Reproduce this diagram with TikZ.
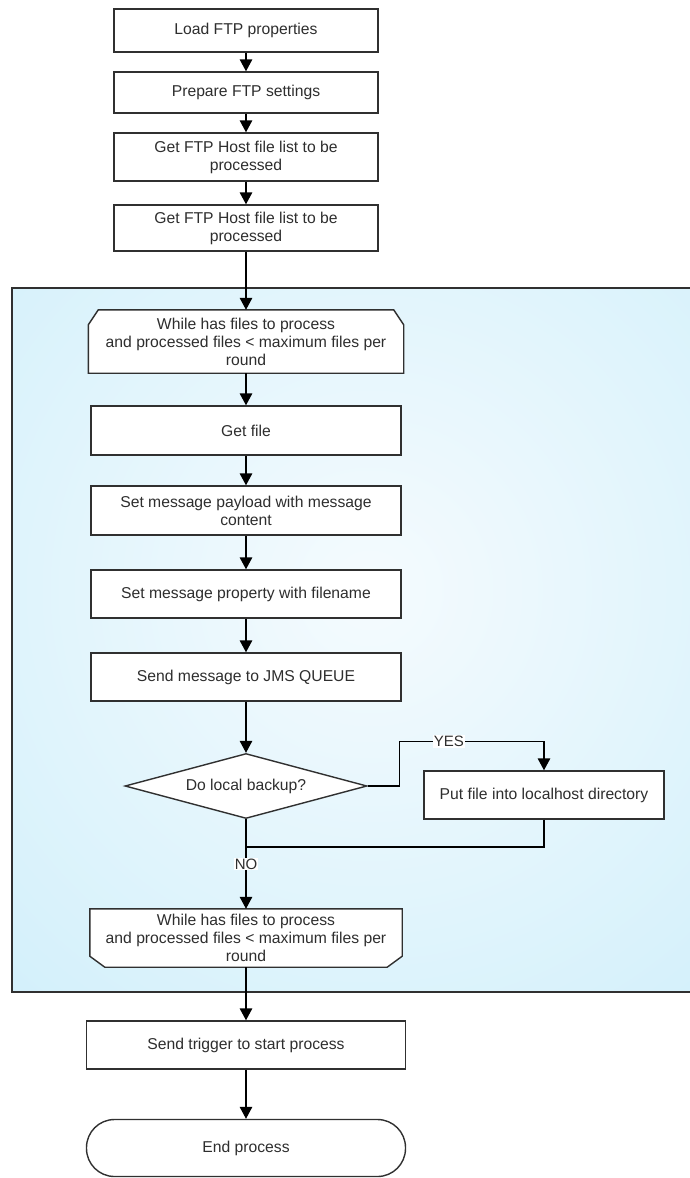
\documentclass[tikz,border=0pt]{standalone}
\usepackage{fontspec}
\setmainfont{Liberation Sans}
\usetikzlibrary{arrows.meta,shapes.geometric}
\pgfdeclarelayer{panel}
\pgfdeclarelayer{outline}
\pgfsetlayers{panel,outline,main}
\definecolor{panelblue}{HTML}{CDEEFA}
\definecolor{panelglow}{HTML}{F5FBFE}
\definecolor{edge}{HTML}{303030}
\definecolor{ink}{HTML}{2E2E2E}

\tikzset{
  flow/.style={font=\fontsize{15.7}{18}\selectfont, text=ink, align=center, inner sep=0pt},
  stepbox/.style={flow, draw=edge, line width=1.4pt, fill=white},
  decision/.style={flow, diamond, draw=edge, line width=1.4pt, fill=white, aspect=3.7},
  terminal/.style={flow, draw=edge, line width=1.4pt, fill=white, rounded corners=28pt},
  outlinepath/.style={draw=edge, line width=1.4pt, fill=white},
  link/.style={draw=black, line width=1.4pt},
  arr/.style={link, -{Triangle[width=12.5pt,length=12pt]}},
  lbl/.style={font=\fontsize{15}{17}\selectfont, text=ink, fill=white, inner sep=1pt}
}

\begin{document}
\begin{tikzpicture}[x=1pt,y=-1pt]
\useasboundingbox (0,0) rectangle (689,1178);

% loop panel with soft gradient
\begin{pgfonlayer}{panel}
  \begin{scope}
    \clip (12,288) rectangle (700,992);
    \shade[inner color=panelglow, outer color=panelblue] (370,590) circle (640pt);
  \end{scope}
  \draw[edge, line width=1.4pt] (700,288) -- (12,288) -- (12,992) -- (700,992);
\end{pgfonlayer}

% preparation steps
\node[stepbox, minimum width=264pt, minimum height=43pt] (load) at (246,30.5) {Load FTP properties};
\node[stepbox, minimum width=264pt, minimum height=41pt] (prep) at (246,92.5) {Prepare FTP settings};
\node[stepbox, minimum width=264pt, minimum height=48pt] (list1) at (246,157) {Get FTP Host file list to be\\processed};
\node[stepbox, minimum width=264pt, minimum height=46pt] (list2) at (246,228) {Get FTP Host file list to be\\processed};

% loop start (top corners cut)
\node[flow, minimum width=315pt, minimum height=63pt] (loopA) at (246,341.5)
  {While has files to process\\and processed files < maximum files per\\round};
\begin{pgfonlayer}{outline}
  \draw[outlinepath] (loopA.south west) -- ([yshift=-15pt]loopA.north west)
    -- ([xshift=10pt]loopA.north west) -- ([xshift=-10pt]loopA.north east)
    -- ([yshift=-15pt]loopA.north east) -- (loopA.south east) -- cycle;
\end{pgfonlayer}

% loop body
\node[stepbox, minimum width=310pt, minimum height=49pt] (getf) at (246,430.5) {Get file};
\node[stepbox, minimum width=310pt, minimum height=49pt] (payload) at (246,510.5) {Set message payload with message\\content};
\node[stepbox, minimum width=310pt, minimum height=48pt] (prop) at (246,594) {Set message property with filename};
\node[stepbox, minimum width=310pt, minimum height=48pt] (jms) at (246,677) {Send message to JMS QUEUE};

\node[decision, minimum width=242pt, minimum height=65pt] (dec) at (246,786) {Do local backup?};
\node[stepbox, minimum width=240pt, minimum height=48pt] (put) at (544,795) {Put file into localhost directory};
\coordinate (join) at (246,847);

% loop end (bottom corners cut)
\node[flow, minimum width=312pt, minimum height=58pt] (loopB) at (246,938)
  {While has files to process\\and processed files < maximum files per\\round};
\begin{pgfonlayer}{outline}
  \draw[outlinepath] (loopB.north west) -- ([yshift=11pt]loopB.south west)
    -- ([xshift=15pt]loopB.south west) -- ([xshift=-15pt]loopB.south east)
    -- ([yshift=11pt]loopB.south east) -- (loopB.north east) -- cycle;
\end{pgfonlayer}

% closing steps
\node[stepbox, minimum width=319pt, minimum height=48pt] (trig) at (246,1045) {Send trigger to start process};
\node[terminal, minimum width=319pt, minimum height=57pt] (done) at (246,1148) {End process};

% connectors
\draw[arr] (load) -- (prep);
\draw[arr] (prep) -- (list1);
\draw[arr] (list1) -- (list2);
\draw[arr] (list2) -- (loopA);
\draw[arr] (loopA) -- (getf);
\draw[arr] (getf) -- (payload);
\draw[arr] (payload) -- (prop);
\draw[arr] (prop) -- (jms);
\draw[arr] (jms) -- (dec);
\draw[arr] (dec.east) -- ++(32,0) |- node[lbl, pos=0.67] {YES} ([yshift=29pt]put.north) -- (put.north);
\draw[link] (put.south) |- (join);
\draw[arr] (dec.south) -- node[lbl, pos=0.5] {NO} (loopB.north);
\draw[arr] (loopB) -- (trig);
\draw[arr] (trig) -- (done);
\end{tikzpicture}
\end{document}
